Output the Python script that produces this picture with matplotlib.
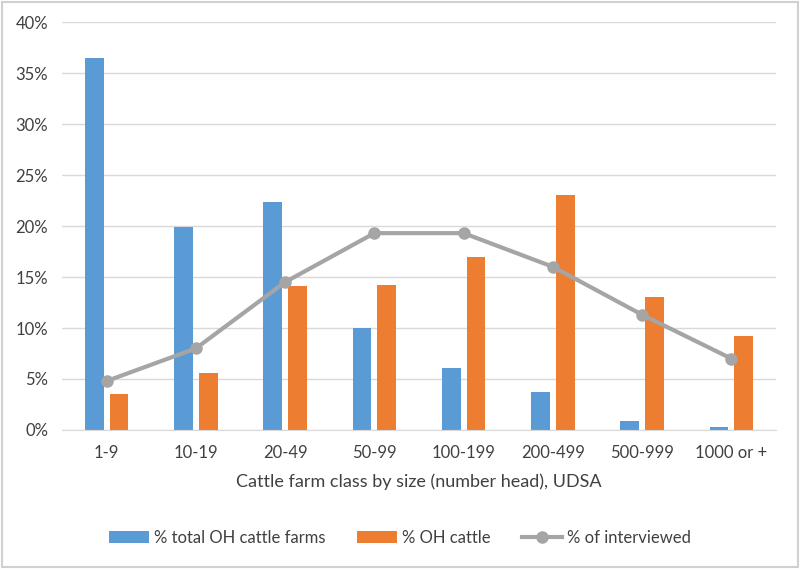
import matplotlib.pyplot as plt
from matplotlib.patches import Rectangle
import numpy as np

plt.rcParams['font.family'] = ['Lato', 'DejaVu Sans']

categories = ["1-9", "10-19", "20-49", "50-99", "100-199", "200-499", "500-999", "1000 or +"]
pct_farms = [36.5, 19.9, 22.4, 10.0, 6.1, 3.7, 0.9, 0.3]
pct_cattle = [3.5, 5.6, 14.1, 14.2, 17.0, 23.0, 13.0, 9.2]
pct_interviewed = [4.8, 8.0, 14.5, 19.3, 19.3, 16.0, 11.3, 7.0]

blue = "#5B9BD5"
orange = "#ED7D31"
gray = "#A5A5A5"
text_col = "#404040"

fig = plt.figure(figsize=(8, 5.69), dpi=100)
ax = fig.add_axes([0.0775, 0.2443, 0.8925, 0.717])

x = np.arange(len(categories))
w = 0.21
b1 = ax.bar(x - 0.14, pct_farms, w, color=blue, label="% total OH cattle farms", zorder=2)
b2 = ax.bar(x + 0.14, pct_cattle, w, color=orange, label="% OH cattle", zorder=2)
l1, = ax.plot(x, pct_interviewed, color=gray, lw=3, marker="o", ms=8,
              label="% of interviewed", zorder=3)

ax.set_xlim(-0.5, len(categories) - 0.5)
ax.set_ylim(0, 40)
ax.set_yticks(range(0, 41, 5))
ax.set_yticklabels([f"{v}%" for v in range(0, 41, 5)])
ax.set_xticks(x)
ax.set_xticklabels(categories)
ax.tick_params(length=0, labelsize=12, colors=text_col)
ax.tick_params(axis="x", pad=11)
ax.tick_params(axis="y", pad=10)
ax.grid(axis="y", color="#D9D9D9", lw=1, zorder=0)
for s in ["top", "right", "left"]:
    ax.spines[s].set_visible(False)
ax.spines["bottom"].set_color("#D9D9D9")
ax.set_xlabel("Cattle farm class by size (number head), UDSA", fontsize=13,
              color=text_col, labelpad=9)

fig.legend(handles=[b1, b2, l1], loc="center", bbox_to_anchor=(0.5, 0.055), ncol=3,
           frameon=False, fontsize=12, labelcolor=text_col, columnspacing=1.9,
           handlelength=2.4, handletextpad=0.3)

fig.patches.append(Rectangle((0.002, 0.003), 0.995, 0.994, transform=fig.transFigure,
                             fill=False, edgecolor="#D0D0D0", lw=1.5))

fig.savefig("out.png", dpi=100)
